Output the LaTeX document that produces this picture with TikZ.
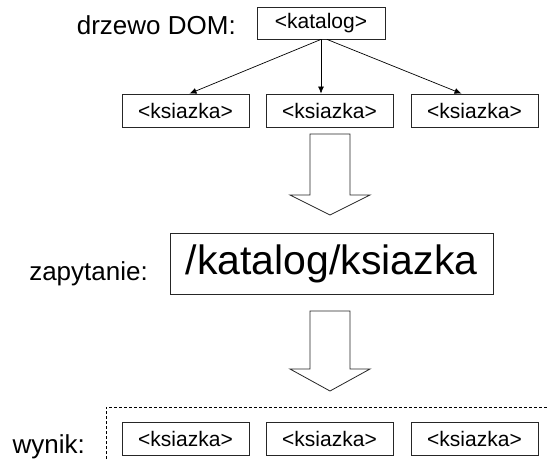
\documentclass[tikz,border=0pt]{standalone}
\usepackage{fontspec}
\setmainfont{Liberation Sans}
\usetikzlibrary{arrows.meta,calc}

\begin{document}
\begin{tikzpicture}[x=1pt, y=-1pt,
    tag/.style = {draw=black!85, line width=0.8pt, inner sep=0pt, minimum width=127pt, minimum height=33pt, font=\fontsize{21}{25}\selectfont},
    label/.style = {inner sep=0pt, font=\fontsize{26}{30}\selectfont},
    edge/.style = {line width=0.7pt, -{Latex[length=7pt, width=6pt]}},
    bigarrow/.style = {draw=black!85, line width=0.8pt, fill=white}]
    \useasboundingbox (0,0) rectangle (549,459);

    % drzewo
    \node[label, anchor=base east] (dom) at (236,34) {drzewo DOM:};
    \node[tag, minimum width=128pt, minimum height=32pt] (kat) at (321,23) {<katalog>};
    \node[tag] (k1) at (185.5,110.5) {<ksiazka>};
    \node[tag] (k2) at (329.5,110.5) {<ksiazka>};
    \node[tag] (k3) at (474.5,110.5) {<ksiazka>};

    \draw[edge] (kat.south) -- ([xshift=4pt]k1.north);
    \draw[edge] (kat.south) -- (kat.south |- k2.north);
    \draw[edge] ([xshift=6pt]kat.south) -- ([xshift=-13pt]k3.north);

    % zapytanie
    \node[label, anchor=base east] (zap) at (148,280) {zapytanie:};
    \node[tag, minimum width=323pt, minimum height=61pt, font=\fontsize{41}{48}\selectfont] (query) at (331.5,263.5) {/katalog/ksiazka};

    % wynik
    \node[label, anchor=base east] (wyn) at (85,453) {wynik:};
    \node[tag] (w1) at (185.5,438.5) {<ksiazka>};
    \node[tag] (w2) at (329.5,438.5) {<ksiazka>};
    \node[tag] (w3) at (474.5,438.5) {<ksiazka>};
    \draw[line width=0.7pt, dash pattern=on 3pt off 2pt] (106,459) -- (106,407) -- (549,407);

    % strzalki blokowe
    \foreach \t/\s/\e in {134/195/215, 311/369/391}
        \draw[bigarrow] (310,\t) -- (350,\t) -- (350,\s) -- (370,\s) -- (330,\e)
            -- (290,\s) -- (310,\s) -- cycle;
\end{tikzpicture}
\end{document}
